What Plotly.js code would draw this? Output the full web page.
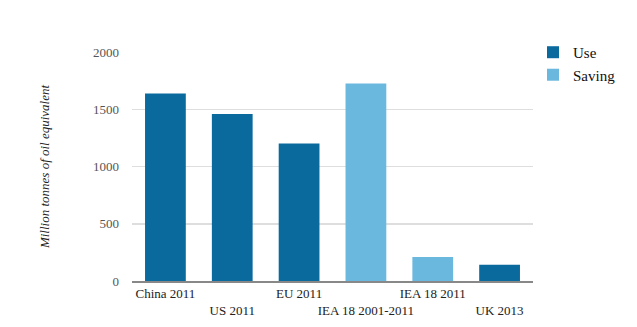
<!DOCTYPE html>
<html>
<head>
<meta charset="utf-8">
<script src="https://cdn.plot.ly/plotly-3.0.1.min.js"></script>
<style>html,body{margin:0;padding:0;background:#fff;}#chart{width:637px;height:327px;}</style>
</head>
<body>
<div id="chart"></div>
<script>
var categories = ["China 2011", "US 2011", "EU 2011", "IEA 18 2001-2011", "IEA 18 2011", "UK 2013"];
var useValues = [1637, 1459, 1201, null, null, 142];
var savingValues = [null, null, null, 1724, 209, null];
var yTicks = [0, 500, 1000, 1500, 2000];

var tickText = categories.map(function (c, i) { return i % 2 === 1 ? "<br>" + c : c; });

var serif = "Liberation Serif";

var traces = [
  { type: "bar", name: "Use", x: categories, y: useValues,
    marker: { color: "#0a6a9e", line: { color: "#0a6a9e", width: 0 } } },
  { type: "bar", name: "Saving", x: categories, y: savingValues,
    marker: { color: "#6ab8de", line: { color: "#6ab8de", width: 0 } } }
];

var layout = {
  width: 637, height: 327,
  margin: { l: 132, r: 104, t: 52, b: 46 },
  paper_bgcolor: "#fff", plot_bgcolor: "#fff",
  barmode: "overlay",
  bargap: 0.39,
  showlegend: true,
  legend: { x: 1.0, y: 1.07, xanchor: "left", yanchor: "top",
    font: { family: serif, size: 15, color: "#111" }, tracegroupgap: 0, itemwidth: 30 },
  xaxis: {
    type: "category", tickmode: "array", tickvals: categories, ticktext: tickText,
    showline: true, linecolor: "#888", linewidth: 1.5, ticks: "", showgrid: false,
    tickfont: { family: serif, size: 13, color: "#222" }, tickangle: 0
  },
  yaxis: {
    range: [0, 2000], tickmode: "array", tickvals: yTicks,
    showgrid: true, gridcolor: "#dedede", gridwidth: 1.5, zeroline: false,
    ticks: "", ticklabelstandoff: 12,
    tickfont: { family: serif, size: 13, color: "#555" },
    title: { text: "<i>Million tonnes of oil equivalent</i>", standoff: 40,
      font: { family: serif, size: 13, color: "#222" } }
  }
};

Plotly.newPlot("chart", traces, layout, { displayModeBar: false, staticPlot: true });
</script>
</body>
</html>
